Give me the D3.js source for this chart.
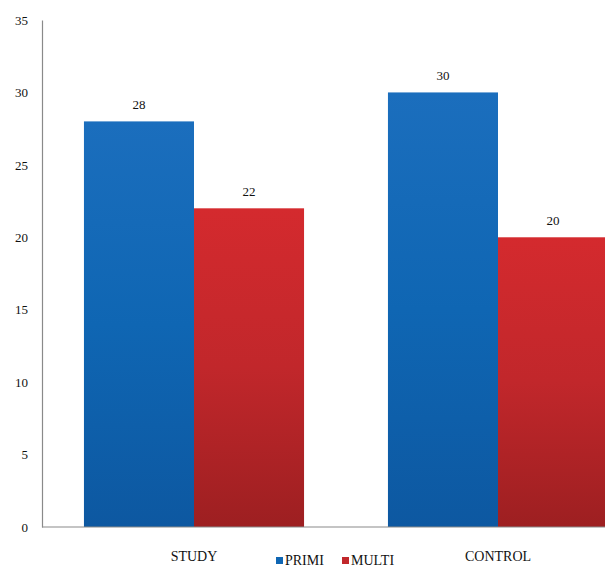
<!DOCTYPE html>
<html>
<head>
<meta charset="utf-8">
<script src="https://cdn.jsdelivr.net/npm/d3@7/dist/d3.min.js"></script>
<style>
  html, body { margin: 0; padding: 0; background: #fff; }
  svg { display: block; }
</style>
</head>
<body>
<div id="chart"></div>
<script>
// Groups, series and values
const groups = ["STUDY", "CONTROL"];
const seriesNames = ["PRIMI", "MULTI"];
const primi = [28, 30];
const multi = [22, 20];
const yTicks = [0, 5, 10, 15, 20, 25, 30, 35];

const FONT = "'Liberation Serif', 'DejaVu Serif', serif";
const INK = "#111";
const W = 605, H = 568;
const svg = d3.select("#chart").append("svg").attr("width", W).attr("height", H)
  .style("font-family", FONT);

const axisX = 42, baseY = 527, topY = 20;

const y = d3.scaleLinear().domain([0, 35]).range([baseY, topY]);
const x0 = d3.scaleBand().domain(groups).range([axisX, axisX + 608])
  .paddingInner(0.276).paddingOuter(0.138);
const x1 = d3.scaleBand().domain(seriesNames).range([0, x0.bandwidth()]);

// Gradients for bar fill
const defs = svg.append("defs");
const grads = {
  PRIMI: ["#1b6ebd", "#0f66b3", "#0d58a1"],
  MULTI: ["#d42a2e", "#c1272b", "#9d1f21"]
};
Object.entries(grads).forEach(([k, c]) => {
  const g = defs.append("linearGradient").attr("id", "g-" + k)
    .attr("x1", 0).attr("y1", 0).attr("x2", 0).attr("y2", 1);
  g.append("stop").attr("offset", "0%").attr("stop-color", c[0]);
  g.append("stop").attr("offset", "50%").attr("stop-color", c[1]);
  g.append("stop").attr("offset", "100%").attr("stop-color", c[2]);
});

// Y axis (no tick marks)
const yAxis = d3.axisLeft(y).tickValues(yTicks).tickSize(0).tickPadding(14);
const gy = svg.append("g").attr("transform", `translate(${axisX},0)`).call(yAxis)
  .attr("font-family", null).attr("font-size", null);
gy.select(".domain").attr("stroke", "#8a8a8a").attr("stroke-width", 1.2);
gy.selectAll("text").style("font-family", FONT).style("font-size", "13px").attr("fill", INK);

// Bars
const rows = groups.map((g, i) => ({ group: g, values: [
  { key: "PRIMI", v: primi[i] }, { key: "MULTI", v: multi[i] }
]}));

const gg = svg.selectAll(".grp").data(rows).enter().append("g")
  .attr("transform", d => `translate(${x0(d.group)},0)`);

gg.selectAll("rect").data(d => d.values).enter().append("rect")
  .attr("x", d => x1(d.key))
  .attr("y", d => y(d.v))
  .attr("width", x1.bandwidth())
  .attr("height", d => baseY - y(d.v))
  .attr("fill", d => `url(#g-${d.key})`);

gg.selectAll(".val").data(d => d.values).enter().append("text")
  .attr("x", d => x1(d.key) + x1.bandwidth() / 2)
  .attr("y", d => y(d.v) - 12)
  .attr("text-anchor", "middle")
  .attr("fill", INK)
  .style("font-family", FONT)
  .style("font-size", "13px")
  .text(d => d.v);

// X axis baseline
svg.append("line").attr("x1", axisX).attr("x2", W).attr("y1", baseY).attr("y2", baseY)
  .attr("stroke", "#8a8a8a").attr("stroke-width", 1.2);

// Group labels
svg.selectAll(".glab").data(groups).enter().append("text")
  .attr("x", d => x0(d) + x0.bandwidth() / 2)
  .attr("y", 561)
  .attr("text-anchor", "middle")
  .attr("fill", INK)
  .style("font-family", FONT)
  .style("font-size", "14px")
  .text(d => d);

// Legend
const legendX = [276, 342];
const lg = svg.selectAll(".leg").data(seriesNames).enter().append("g")
  .attr("transform", (d, i) => `translate(${legendX[i]},0)`);
lg.append("rect").attr("x", 0).attr("y", 557).attr("width", 7).attr("height", 7)
  .attr("fill", d => grads[d][1]);
lg.append("text").attr("x", 9).attr("y", 565)
  .attr("fill", INK)
  .style("font-family", FONT)
  .style("font-size", "14px").text(d => d);
</script>
</body>
</html>
